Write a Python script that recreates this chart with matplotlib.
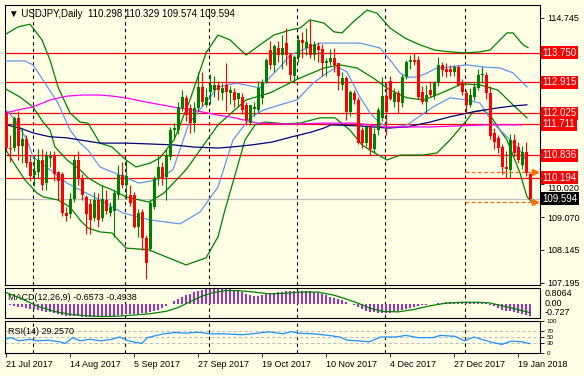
import numpy as np
import pandas as pd
import matplotlib
matplotlib.use("Agg")
import matplotlib.pyplot as plt
from matplotlib.transforms import blended_transform_factory

plt.rcParams['font.family'] = ['Liberation Sans', 'DejaVu Sans']
plt.rcParams['font.size'] = 6.5

# ---------------- data ----------------
dates = pd.bdate_range("2017-07-21", "2018-01-24")
dates = dates[~dates.isin(pd.to_datetime(["2017-12-25", "2018-01-01"]))]

opens = [112.00, 111.05, 111.05, 111.90, 111.10, 111.30, 110.65, 110.28, 110.35, 110.70,
         110.05, 110.75, 110.80, 110.35, 110.30, 109.20, 109.15, 109.60, 110.70, 110.20,
         109.65, 109.45, 109.05, 109.55, 109.05, 109.55, 109.20, 109.25, 109.70, 110.27,
         110.00, 109.70, 109.70, 108.80, 109.23, 108.48, 108.16, 109.37, 110.15, 110.51,
         110.22, 110.78, 111.55, 111.56, 112.18, 112.47, 112.18, 111.75, 112.18, 112.78,
         112.27, 112.64, 112.70, 112.84, 112.60, 112.84, 112.60, 112.65, 112.45, 112.50,
         112.27, 111.74, 112.15, 112.12, 112.46, 112.93, 113.83, 113.41, 113.90, 113.69,
         114.02, 113.69, 113.10, 113.64, 114.12, 113.90, 114.00, 113.70, 113.95, 113.87,
         113.45, 113.50, 113.60, 113.45, 112.84, 113.03, 112.08, 112.60, 112.41, 111.55,
         111.18, 111.63, 111.00, 111.55, 111.89, 112.52, 112.95, 112.36, 112.60, 112.31,
         113.07, 113.50, 113.55, 113.55, 112.64, 112.36, 112.69, 112.52, 112.88, 113.41,
         113.30, 113.30, 113.20, 113.36, 112.93, 112.60, 112.27, 112.50, 112.74, 113.12,
         113.12, 112.60, 111.47, 111.33, 111.08, 110.50, 110.42, 111.27, 111.08, 110.56,
         110.94, 110.298]
highs = [112.10, 111.40, 111.95, 112.10, 111.60, 111.40, 110.85, 110.85, 111.00, 111.00,
         110.95, 110.95, 110.95, 110.40, 110.35, 109.35, 109.75, 110.85, 110.95, 110.30,
         109.70, 109.60, 109.80, 109.75, 110.00, 109.85, 109.50, 109.85, 110.55, 110.65,
         110.70, 110.00, 109.80, 109.30, 109.30, 108.55, 109.55, 110.25, 110.85, 110.65,
         111.00, 111.65, 111.75, 112.35, 112.70, 112.55, 112.30, 112.35, 113.22, 113.20,
         112.75, 113.15, 113.10, 112.95, 112.90, 113.45, 112.80, 112.75, 112.60, 112.60,
         112.35, 112.25, 112.35, 112.95, 113.00, 113.60, 114.10, 114.00, 114.10, 114.25,
         114.45, 113.75, 113.70, 114.25, 114.35, 114.45, 114.70, 114.10, 114.05, 114.00,
         113.60, 113.85, 113.90, 113.45, 113.20, 113.10, 112.70, 112.70, 112.50, 111.65,
         111.70, 111.70, 111.60, 112.20, 113.07, 112.90, 113.10, 112.75, 112.70, 113.15,
         113.55, 113.69, 113.75, 113.65, 112.80, 112.85, 112.95, 112.95, 113.64, 113.50,
         113.45, 113.40, 113.40, 113.40, 113.00, 112.70, 112.75, 112.90, 113.30, 113.35,
         113.20, 112.80, 111.60, 111.40, 111.15, 110.95, 111.45, 111.45, 111.20, 111.10,
         111.20, 110.329]
lows = [110.95, 110.65, 110.95, 110.70, 110.60, 110.50, 110.10, 109.95, 110.20, 109.85,
        109.85, 110.50, 110.10, 109.55, 109.10, 108.95, 109.05, 109.50, 110.00, 109.55,
        108.60, 108.60, 108.95, 108.80, 108.95, 109.15, 109.10, 108.50, 109.60, 109.90,
        109.60, 109.40, 108.75, 108.50, 108.14, 107.32, 108.10, 109.30, 110.00, 110.00,
        109.56, 110.70, 111.30, 111.45, 112.10, 111.80, 111.47, 111.50, 112.10, 112.25,
        112.20, 112.30, 112.50, 112.40, 112.40, 112.10, 112.30, 112.20, 112.20, 112.00,
        111.70, 111.70, 111.95, 112.05, 112.30, 112.90, 113.30, 113.20, 113.50, 113.30,
        113.40, 112.95, 112.90, 113.50, 113.60, 113.70, 113.60, 113.55, 113.50, 113.10,
        113.10, 113.40, 113.20, 112.70, 112.70, 111.84, 111.95, 112.30, 111.15, 111.05,
        111.10, 110.84, 110.90, 111.40, 111.80, 111.41, 112.40, 112.20, 112.05, 112.20,
        113.00, 113.30, 113.40, 112.45, 112.30, 112.05, 112.50, 112.45, 112.80, 113.10,
        113.05, 113.10, 113.10, 112.80, 112.55, 112.05, 112.20, 112.40, 112.70, 112.90,
        112.45, 111.30, 111.00, 110.90, 110.30, 110.20, 110.19, 110.80, 110.60, 110.45,
        110.25, 109.574]
closes = [111.05, 111.00, 111.90, 111.10, 111.30, 110.60, 110.25, 110.40, 110.70, 110.00,
          110.80, 110.80, 110.30, 110.10, 109.20, 109.10, 109.60, 110.70, 110.20, 109.70,
          109.15, 109.00, 109.55, 109.00, 109.60, 109.25, 109.35, 109.75, 110.27, 110.00,
          110.25, 109.47, 108.80, 109.20, 108.48, 107.77, 109.47, 110.15, 110.51, 110.15,
          110.84, 111.56, 111.60, 112.21, 112.50, 111.98, 111.75, 112.18, 112.78, 112.35,
          112.50, 112.84, 112.84, 112.70, 112.74, 112.65, 112.69, 112.41, 112.60, 112.12,
          111.84, 112.27, 112.20, 112.74, 112.93, 113.55, 113.41, 113.95, 113.69, 113.90,
          113.69, 113.12, 113.64, 114.12, 114.02, 114.05, 113.69, 114.00, 113.83, 113.46,
          113.52, 113.60, 113.40, 113.10, 113.03, 112.07, 112.65, 112.41, 111.18, 111.18,
          111.63, 111.01, 111.45, 112.12, 112.52, 112.07, 112.45, 112.60, 112.36, 113.07,
          113.50, 113.55, 113.50, 112.50, 112.36, 112.55, 112.55, 112.88, 113.41, 113.26,
          113.20, 113.20, 113.36, 112.84, 112.65, 112.27, 112.55, 112.77, 113.12, 113.16,
          112.60, 111.37, 111.20, 111.04, 110.51, 110.45, 111.27, 110.89, 110.70, 110.94,
          110.32, 109.594]

# overlay lines: (bar index, price)
bb_green_upper = [(0, 114.29), (3, 114.49), (6, 114.57), (9, 114.12), (11, 113.55), (13, 112.78),
                  (16, 112.04), (18.5, 111.78), (20.5, 111.75), (23.5, 111.18), (26.5, 111.07),
                  (30, 110.70), (32.5, 110.50), (36, 110.61), (38.5, 110.76), (42, 111.27),
                  (46, 112.41), (50, 113.75), (53, 114.26), (56, 114.12), (60, 113.69),
                  (63.5, 113.98), (67, 114.26), (71, 114.40), (73.5, 114.46), (76, 114.69),
                  (79.5, 114.60), (82, 114.35), (84, 114.32), (86.5, 114.60), (90.25, 114.97),
                  (92.75, 114.88), (96, 114.46), (99.75, 114.17), (103.5, 113.98), (107.25, 113.83),
                  (111, 113.78), (114.75, 113.75), (118.5, 113.78), (121, 113.83), (123.5, 114.12),
                  (125.25, 114.32), (126.75, 114.32), (129.25, 113.98), (130.5, 113.90)]
bb_green_mid = [(0, 112.72), (3.5, 112.49), (6.75, 112.21), (9.25, 111.78), (11, 111.55),
                (12.25, 111.07), (15.25, 110.70), (18.5, 110.42), (20.5, 110.19), (23.5, 109.99),
                (26.5, 109.85), (30, 109.65), (35.75, 109.50), (39.5, 109.76), (45, 110.42),
                (48.5, 110.98), (53, 111.70), (60, 112.41), (66, 112.61), (73, 113.01),
                (79.5, 113.32), (83.5, 113.41), (87.75, 113.32), (91.75, 113.04), (96, 112.69),
                (100.25, 112.47), (104.5, 112.41), (109.5, 112.64), (114, 112.87), (118.5, 112.84),
                (123, 112.69), (126.75, 112.27), (130.25, 111.90)]
bb_green_lower = [(0, 110.98), (2.25, 110.56), (4.75, 110.13), (7.75, 109.76), (9.25, 109.65),
                  (13, 109.56), (16, 109.36), (18.5, 108.99), (20.5, 108.76), (23.5, 108.65),
                  (26.5, 108.62), (30, 108.19), (35.75, 108.14), (40, 107.94), (45, 107.71),
                  (50, 107.91), (53, 108.51), (54.75, 109.28), (57.25, 110.27), (59.75, 111.27),
                  (62.25, 111.70), (64.75, 111.78), (69.75, 111.73), (73.5, 111.75), (78.5, 111.90),
                  (82.25, 111.90), (86, 111.55), (89, 111.13), (91, 110.98), (95.25, 110.70),
                  (98.5, 110.84), (104.25, 110.84), (107.75, 110.90), (111, 111.27), (115.25, 111.84),
                  (116.75, 112.07), (119.25, 112.12), (121, 111.98), (123.5, 111.55), (125.25, 111.27),
                  (128.5, 110.33), (130.25, 109.65), (131.5, 109.50)]
bb_blue_upper = [(0, 113.52), (4.75, 113.52), (6.75, 113.41), (9.25, 112.98), (13, 112.32),
                 (16, 111.55), (18.5, 111.18), (20.5, 110.98), (23.5, 110.50), (26.5, 110.36),
                 (33.25, 110.04), (37.5, 110.13), (41.75, 110.42), (45.75, 111.75), (50, 112.35),
                 (53, 112.78), (57.75, 112.89), (63.5, 112.75), (66, 113.06), (68.5, 113.35),
                 (71, 113.69), (76, 113.92), (78.5, 114.03), (83.5, 114.03), (88.5, 114.03),
                 (93.5, 113.89), (96, 113.55), (98.5, 113.18), (100.25, 113.06), (102.75, 113.06),
                 (105.25, 113.18), (107.75, 113.32), (111, 113.35), (115.25, 113.41), (119.25, 113.35),
                 (123.5, 113.32), (126.75, 113.18), (130.25, 112.78)]
bb_blue_lower = [(0, 112.12), (2.25, 111.84), (5.25, 111.27), (6.75, 110.79), (11, 110.42),
                 (15.25, 110.04), (18.5, 109.85), (23.5, 109.56), (29.25, 109.19), (36, 108.99),
                 (43.5, 108.88), (48.5, 109.22), (53, 109.93), (56.75, 111.27), (61, 111.90),
                 (64.25, 112.12), (68.5, 112.27), (72.75, 112.41), (76.75, 112.89), (80.25, 113.18),
                 (82.75, 113.35), (85.25, 113.21), (88.5, 112.49), (91, 112.04), (93.5, 111.75),
                 (96, 111.61), (100.25, 111.70), (106.75, 112.21), (111, 112.47), (115.25, 112.41),
                 (118.5, 112.32), (121.75, 111.75), (125.25, 111.36), (128.5, 110.98), (130.25, 110.64)]
ma_navy = [(0, 111.70), (3.5, 111.61), (6.75, 111.47), (11, 111.36), (15.25, 111.33), (18.5, 111.27),
           (23.5, 111.18), (30, 111.18), (35, 111.16), (41.75, 111.13), (46.75, 111.07), (53, 111.04),
           (56.5, 111.07), (61.5, 111.13), (66.5, 111.21), (71.5, 111.36), (76.5, 111.50),
           (79.5, 111.61), (81.25, 111.70), (88.5, 111.67), (95.25, 111.61), (100.25, 111.64),
           (106, 111.78), (111, 111.93), (116.75, 112.07), (122.75, 112.18), (126.75, 112.24),
           (130.25, 112.27)]
ma_magenta = [(0, 112.04), (2.75, 112.12), (6.75, 112.21), (11, 112.41), (15.25, 112.52),
              (19.25, 112.55), (23.5, 112.55), (26.5, 112.52), (30, 112.47), (35, 112.35),
              (41.75, 112.21), (46.75, 112.12), (53, 111.98), (57.25, 111.90), (62.75, 111.75),
              (71, 111.72), (79.25, 111.75), (87.25, 111.75), (94.75, 111.64), (106, 111.64),
              (120.25, 111.70), (129, 111.70)]

red_levels = [113.750, 112.915, 112.025, 111.711, 110.836, 110.194]
orange_levels = [110.36, 109.50]
last_price = 109.594
price_ticks = [107.195, 108.145, 109.070, 110.020, 110.970, 111.920, 112.845, 113.795, 114.745]
hidden_ticks = [110.970, 111.920, 112.845, 113.795]   # covered by the level boxes

macd_hist = [-0.05, -0.10, -0.14, -0.17, -0.20, -0.24, -0.28, -0.32, -0.37, -0.41,
             -0.45, -0.48, -0.53, -0.58, -0.62, -0.66, -0.68, -0.68, -0.69, -0.70,
             -0.71, -0.72, -0.727, -0.72, -0.71, -0.70, -0.68, -0.66, -0.63, -0.60,
             -0.58, -0.56, -0.55, -0.54, -0.53, -0.52, -0.48, -0.42, -0.33, -0.24,
             -0.12, 0.00, 0.12, 0.24, 0.33, 0.45, 0.54, 0.62, 0.69, 0.74,
             0.76, 0.78, 0.79, 0.80, 0.8064, 0.80, 0.78, 0.74, 0.69, 0.60,
             0.50, 0.45, 0.42, 0.42, 0.44, 0.50, 0.55, 0.58, 0.62, 0.65,
             0.66, 0.67, 0.68, 0.70, 0.70, 0.69, 0.68, 0.64, 0.58, 0.52,
             0.45, 0.38, 0.32, 0.25, 0.17, 0.08, -0.02, -0.10, -0.20, -0.30,
             -0.38, -0.44, -0.48, -0.50, -0.52, -0.51, -0.49, -0.46, -0.42, -0.36,
             -0.28, -0.22, -0.16, -0.12, -0.10, -0.08, -0.05, -0.02, 0.02, 0.05,
             0.08, 0.10, 0.10, 0.09, 0.07, 0.06, 0.06, 0.06, 0.07, 0.08,
             0.04, -0.06, -0.15, -0.24, -0.33, -0.40, -0.42, -0.45, -0.50, -0.55,
             -0.60, -0.6573]
macd_signal = [(0, 0.60), (4, 0.25), (8, -0.15), (12, -0.42), (16, -0.58), (20, -0.66), (24, -0.70),
               (28, -0.68), (32, -0.62), (36, -0.55), (40, -0.42), (43, -0.22), (46, 0.10),
               (49, 0.40), (52, 0.60), (55, 0.70), (58, 0.70), (62, 0.62), (66, 0.52), (70, 0.56),
               (74, 0.62), (78, 0.62), (82, 0.45), (85, 0.25), (88, 0.02), (91, -0.25), (94, -0.42),
               (98, -0.45), (102, -0.32), (106, -0.12), (110, 0.02), (114, 0.07), (118, 0.07),
               (121, 0.03), (124, -0.12), (127, -0.27), (131, -0.4938)]
rsi = [(0, 43), (1.3, 48), (3.2, 38), (6, 43), (7.8, 38), (10.6, 40), (13.4, 35), (14.8, 30),
       (16.7, 48), (18.6, 38), (20.9, 43), (23.7, 38), (26.5, 43), (28.4, 50), (30.2, 40),
       (31.6, 35), (34, 30), (35.3, 48), (37.7, 55), (39.5, 60), (42.3, 64), (45, 62), (48, 65),
       (51, 60), (54.5, 60), (59, 57), (63, 62), (65.7, 66), (69.4, 60), (71.3, 67), (73, 62),
       (77, 60), (80.6, 55), (83.4, 50), (85.3, 40), (88, 38), (90.9, 35), (93.6, 50), (97.4, 50),
       (100, 55), (103, 48), (106.7, 48), (108.6, 55), (112.3, 52), (114.6, 38), (117, 50),
       (118.8, 43), (121.6, 33), (124, 27), (126.3, 37), (129, 35), (131, 29.257)]

# ---------------- figure ----------------
W, H = 584, 376
bg = '#ffffe6'
fig = plt.figure(figsize=(W / 100, H / 100), dpi=100, facecolor=bg)


def panel(top, bottom):
    ax = fig.add_axes([5 / W, 1 - bottom / H, 535 / W, (bottom - top) / H], facecolor=bg)
    for s in ax.spines.values():
        s.set_color('black')
        s.set_linewidth(0.8)
    ax.set_xlim(-0.25, 133.5)
    ax.yaxis.tick_right()
    ax.tick_params(axis='y', direction='out', length=3, width=0.6, pad=2, labelsize=6.5)
    ax.tick_params(axis='x', bottom=False, labelbottom=False)
    return ax


ax = panel(5, 285)
ax_macd = panel(288, 318)
ax_rsi = panel(321, 353)

x = np.arange(len(closes))
o, h, l, c = map(np.array, (opens, highs, lows, closes))

# month separators
month_starts = [i for i in range(1, len(dates)) if dates[i].month != dates[i - 1].month]
for a in (ax, ax_macd, ax_rsi):
    for m in month_starts:
        a.axvline(m - 0.25, color='black', lw=0.8, ls=(0, (3, 3)), zorder=1)

# horizontal levels
for lv in red_levels:
    ax.axhline(lv, color='#ff0000', lw=0.9, zorder=2)
ax.axhline(last_price, color='#c0c0c0', lw=0.9, zorder=2)

# overlays
for line, col in [(bb_green_upper, '#008000'), (bb_green_mid, '#008000'), (bb_green_lower, '#008000'),
                  (bb_blue_upper, '#6495ed'), (bb_blue_lower, '#6495ed'),
                  (ma_navy, '#000080'), (ma_magenta, '#ff00ff')]:
    xs, ys = zip(*line)
    ax.plot(xs, ys, color=col, lw=0.9, zorder=3)

# candles
up = c > o
flat = np.isclose(c, o, atol=0.02)
cols = np.where(up, '#008000', '#ff0000')
cols = np.where(flat, 'black', cols)
ax.vlines(x, l, h, colors=cols, lw=0.8, zorder=4)
ax.bar(x, np.maximum(np.abs(c - o), 0.02), bottom=np.minimum(o, c), width=0.75,
       color=cols, linewidth=0, zorder=5)

# orange dashed lines with arrows
start = month_starts[-1]
for lv in orange_levels:
    ax.hlines(lv, start - 0.25, 131.8, color='#ff6a00', lw=0.9, ls=(0, (3, 2)), zorder=6)
    ax.plot([132.3], [lv], marker='>', color='#ff6a00', ms=4, mec='#ff6a00', zorder=6)

ax.set_ylim(107.138, 115.115)
ax.set_yticks(price_ticks)
ax.set_yticklabels(["" if t in hidden_ticks else f"{t:.3f}" for t in price_ticks])
# the 110.020 label sits just under the 110.194 box, as in MT4
for t, lbl in zip(price_ticks, ax.get_yticklabels()):
    if t == 110.020:
        lbl.set_va('top')

trans = blended_transform_factory(ax.transAxes, ax.transData)
for lv in red_levels:
    ax.annotate(f"{lv:.3f}", xy=(1, lv), xycoords=trans, xytext=(2, 0), textcoords='offset points',
                va='center', ha='left', color='white', fontsize=7, annotation_clip=False, zorder=10,
                bbox=dict(boxstyle='square,pad=0.15', fc='#ff0000', ec='none'))
ax.annotate(f"{last_price:.3f}", xy=(1, last_price), xycoords=trans, xytext=(2, 0),
            textcoords='offset points', va='center', ha='left', color='white', fontsize=7,
            annotation_clip=False, zorder=10,
            bbox=dict(boxstyle='square,pad=0.15', fc='black', ec='none'))

fig.text(9 / W, 1 - 14 / H, "\u25bc USDJPY,Daily  110.298 110.329 109.574 109.594",
         fontsize=7, va='center', ha='left', color='black')

# MACD
ax_macd.bar(x, macd_hist, width=0.35, color='#9a32cd', linewidth=0, zorder=3)
sx, sy = zip(*macd_signal)
ax_macd.plot(sx, sy, color='#008000', lw=0.9, zorder=4)
ax_macd.set_ylim(-0.78, 0.84)
ax_macd.set_yticks([])
ax_macd.text(1.008, 0.80, "0.8064", transform=ax_macd.transAxes, va='center', ha='left', fontsize=6.5)
ax_macd.text(1.008, 0.49, "0.00", transform=ax_macd.transAxes, va='center', ha='left', fontsize=6.5)
ax_macd.text(1.008, 0.19, "-0.727", transform=ax_macd.transAxes, va='center', ha='left', fontsize=6.5)
ax_macd.text(0.006, 0.70, "MACD(12,26,9) -0.6573 -0.4938", transform=ax_macd.transAxes,
             va='center', ha='left', fontsize=6.5)

# RSI
for lv in (30, 50, 70):
    ax_rsi.axhline(lv, color='#c0c0c0', lw=0.8, ls=(0, (3, 2)), zorder=2)
rx, ry = zip(*rsi)
ax_rsi.plot(rx, ry, color='#1e90ff', lw=0.9, zorder=3)
ax_rsi.set_ylim(0, 100)
ax_rsi.set_yticks([0, 30, 50, 70, 100])
ax_rsi.set_yticklabels(['0', '30', '50', '70', '100'], fontsize=4.5)
ax_rsi.text(0.006, 0.68, "RSI(14) 29.2570", transform=ax_rsi.transAxes, va='center', ha='left',
            fontsize=6.5)

tick_idx = list(range(0, len(dates), 16))
ax_rsi.set_xticks(tick_idx)
ax_rsi.set_xticklabels([dates[i].strftime('%-d %b %Y') for i in tick_idx])
ax_rsi.tick_params(axis='x', bottom=True, labelbottom=True, direction='out', length=3,
                   width=0.6, pad=2, labelsize=6.5)
for lbl in ax_rsi.get_xticklabels():
    lbl.set_ha('left')

fig.savefig('out.png', dpi=100, facecolor=bg)
